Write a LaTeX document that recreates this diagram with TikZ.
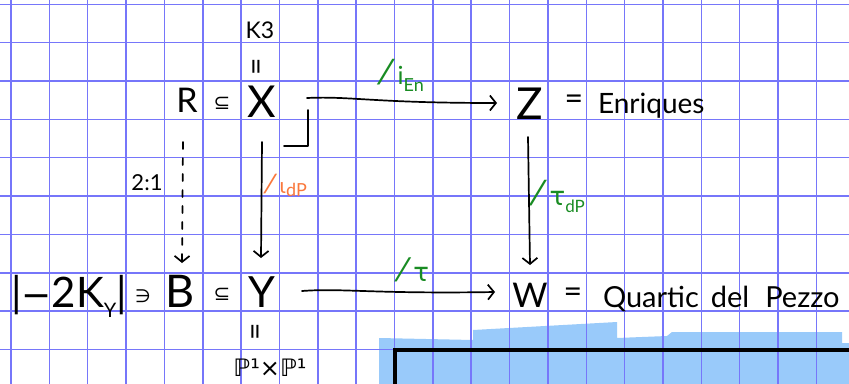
\documentclass[tikz,border=0pt]{standalone}
\usepackage{fontspec}
\setmainfont{Lato}
\newfontfamily\symf{DejaVu Sans}
\usetikzlibrary{arrows.meta,calc}
\definecolor{gridblue}{RGB}{118,118,250}
\definecolor{paintblue}{RGB}{153,202,250}
\definecolor{labgreen}{RGB}{25,140,35}
\definecolor{laborange}{RGB}{250,120,60}
\newcommand{\fs}[1]{\fontsize{#1}{#1}\selectfont}
\newcommand{\tick}[2]{{\symf\fs{#1}⁄}\kern#2pt}
\tikzset{
  gridline/.style={draw=gridblue, line width=1.5pt},
  txt/.style={inner sep=0pt, outer sep=0pt, text=black},
  lbl/.style={inner sep=0pt, outer sep=0pt, anchor=base west},
  arr/.style={line width=1.7pt, line cap=round, -{Straight Barb[length=6pt,width=15pt,line width=1.7pt]}},
  darr/.style={arr, dash pattern=on 7pt off 9pt},
  corner/.style={line width=1.7pt, line cap=round, line join=round}
}
\begin{document}
\begin{tikzpicture}[x=1pt,y=-1pt]
\useasboundingbox (0,0) rectangle (849,383);
\clip (0,0) rectangle (849,383);
\fill[white] (0,0) rectangle (849,383);
% blue paint
\fill[paintblue] (379,390) -- (379,338) -- (473,340) -- (473,330) -- (617,322) -- (617,338)
  -- (667,336) -- (672,332) -- (842,332) -- (842,343) -- (855,343) -- (855,390) -- cycle;
% grid
\foreach \k in {0,...,21} \draw[gridline] ({11+38.35*\k},-5) -- ({11+38.35*\k},390);
\foreach \k in {0,...,9} \draw[gridline] (-5,{4.3+38.35*\k}) -- (855,{4.3+38.35*\k});
% black box
\draw[line width=3.6pt] (395,395) -- (395,350) -- (860,350);

% top row
\node[txt] (k3) at (260,30) {\fs{23}K3};
\node[txt, rotate=90] (eqX) at (260,67) {\fs{30}=};
\node[txt] (R) at (187,100) {\fs{34}R};
\node[txt] (subR) at (222,103) {\symf\fs{20}⊆};
\node[txt] (X) at (262,102) {\fs{44}X};
\node[txt] (Z) at (530,104) {\fs{44}Z};
\node[txt] (eqZ) at (574,102) {\fs{32}=};
\node[lbl] (enr) at (598,113) {\fs{28}Enriques};
\node[txt] (two) at (147,183) {\fs{22}2:1};

% bottom row
\node[lbl] (abs) at (11,307) {\fs{42}|\symf\fs{36}−\fontspec{Lato}\fs{42}2K\raisebox{-0.25em}{\fs{20}Y}|};
\node[txt] (ni) at (143,296) {\symf\fs{18}∋};
\node[txt] (B) at (180,291) {\fs{45}B};
\node[txt] (subB) at (222,294) {\symf\fs{20}⊆};
\node[txt] (Y) at (262,292) {\fs{43}Y};
\node[txt, rotate=90] (eqY) at (259,332) {\fs{30}=};
\node[txt] (pp) at (270,368) {\symf\fs{24}ℙ¹×ℙ¹};
\node[txt] (W) at (530,295) {\fs{34}W};
\node[txt] (eqW) at (573,295) {\fs{32}=};
\node[lbl] (qdp) at (603,307) {\fs{29}Quartic\hspace{12pt}del\hspace{16pt}Pezzo};

% labels
\node[lbl, text=labgreen] (len) at (383,84) {\tick{34}{9}\fs{25}i\raisebox{-0.3em}{\fs{18}En}};
\node[lbl, text=laborange] (ldp) at (268,193) {\tick{26}{7}\symf\fs{20}ι\raisebox{-0.15em}{\fontspec{Lato}\fs{18}dP}};
\node[lbl, text=labgreen] (ltdp) at (535,205) {\tick{34}{9}\symf\fs{26}τ\raisebox{-0.3em}{\fontspec{Lato}\fs{17}dP}};
\node[lbl, text=labgreen] (lt) at (400,281) {\tick{32}{8}\symf\fs{26}τ};

% arrows
\draw[arr] ($(X)+(45,-4)$) .. controls ($(X)+(90,-6)$) and ($(X)+(110,1)$) .. ($(Z)+(-33,-1)$);
\draw[arr] ($(Y)+(40,-1)$) .. controls ($(Y)+(80,-4)$) and ($(Y)+(110,2)$) .. ($(W)+(-35,-3)$);
\draw[arr] ($(X)+(0,40)$) -- ($(Y)+(-1,-34)$);
\draw[arr] ($(Z)+(-2,33)$) -- ($(W)+(0,-30)$);
\draw[darr] ($(R)+(-4,42)$) -- ($(B)+(2,-28)$);
\draw[corner] ($(X)+(22,44)$) -- ($(X)+(46,44)$) -- ($(X)+(46,8)$);
\end{tikzpicture}
\end{document}
